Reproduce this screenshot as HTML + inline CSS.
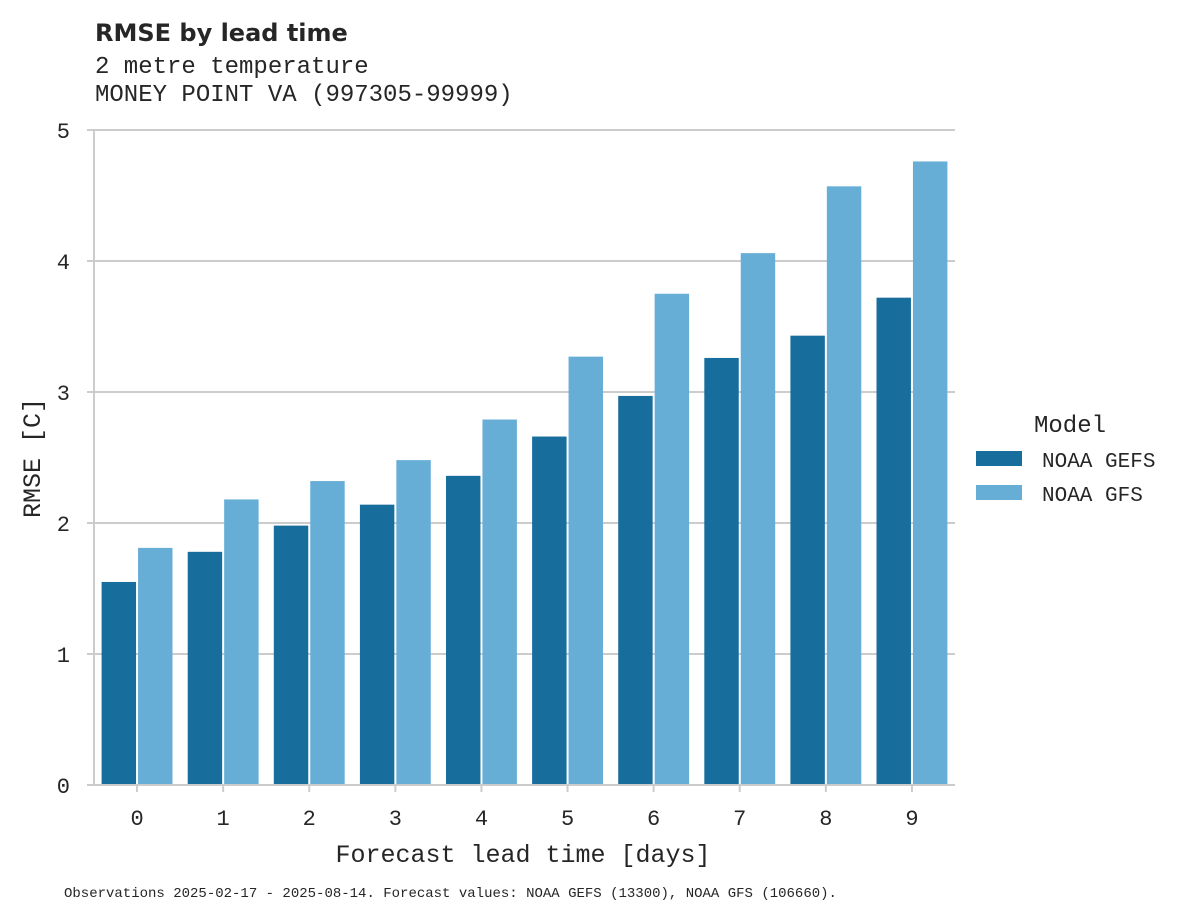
<!DOCTYPE html>
<html><head><meta charset="utf-8"><style>
body{margin:0;background:#fff;}
svg text{font-family:"Liberation Mono","DejaVu Sans Mono",monospace;fill:#262626;}
</style></head><body>
<svg id="chart" width="1195" height="919" xmlns="http://www.w3.org/2000/svg">
<text x="95" y="41" style="font-family:'DejaVu Sans','Liberation Sans',sans-serif;font-weight:bold;font-size:24px">RMSE by lead time</text>
<text x="95" y="73" font-size="24">2 metre temperature</text>
<text x="95" y="101" font-size="24">MONEY POINT  VA (997305-99999)</text>
<g id="grid"></g><g id="bars"></g><g id="axes"></g>
<text x="523" y="862" font-size="25" text-anchor="middle">Forecast lead time [days]</text>
<text transform="translate(40,458) rotate(-90)" font-size="25" text-anchor="middle">RMSE [C]</text>
<g>
<text x="1034" y="432" font-size="24">Model</text>
<rect x="976" y="451" width="46" height="15" fill="#176d9c"/>
<text x="1042" y="467" font-size="21">NOAA GEFS</text>
<rect x="976" y="485" width="46" height="15" fill="#67aed7"/>
<text x="1042" y="501" font-size="21">NOAA GFS</text>
</g>
<text x="64" y="897" font-size="14">Observations 2025-02-17 - 2025-08-14. Forecast values: NOAA GEFS (13300), NOAA GFS (106660).</text>
</svg>
<script>
const categories=["0","1","2","3","4","5","6","7","8","9"];
const gefs=[1.55,1.78,1.98,2.14,2.36,2.66,2.97,3.26,3.43,3.72];
const gfs=[1.81,2.18,2.32,2.48,2.79,3.27,3.75,4.06,4.57,4.76];
const yTicks=[0,1,2,3,4,5];
const NS="http://www.w3.org/2000/svg";
const x0=94,x1=955,yb=785,yt=130,ymax=5;
const bw=(x1-x0)/categories.length;
const y=v=>yb-(v/ymax)*(yb-yt);
const xc=i=>x0+bw*(i+0.5);
function mk(t,a,p){const e=document.createElementNS(NS,t);for(const k in a)e.setAttribute(k,a[k]);document.getElementById(p).appendChild(e);return e;}
yTicks.forEach(t=>{
  if(t>0){const l=mk('line',{x1:x0,x2:x1,y1:y(t),y2:y(t),stroke:'#cccccc','stroke-width':2},'grid');
  
  }
  const tk=mk('line',{x1:x0-7,x2:x0,y1:y(t),y2:y(t),stroke:'#cccccc','stroke-width':2},'axes');
  
  
  const tx=mk('text',{x:x0-24,y:y(t)+8,'font-size':22,'text-anchor':'end'},'axes');
  tx.textContent=t;
  
  
});
categories.forEach((c,i)=>{
  const w=bw*0.4;
  const a=mk('rect',{x:xc(i)-w-1,y:y(gefs[i]),width:w,height:yb-y(gefs[i]),fill:'#176d9c'},'bars');
  
  
  const b=mk('rect',{x:xc(i)+1,y:y(gfs[i]),width:w,height:yb-y(gfs[i]),fill:'#67aed7'},'bars');
  
  
  const tk=mk('line',{x1:xc(i),x2:xc(i),y1:yb,y2:yb+7,stroke:'#cccccc','stroke-width':2},'axes');
  
  
  const tx=mk('text',{x:xc(i),y:yb+40,'font-size':22,'text-anchor':'middle'},'axes');
  tx.textContent=c;
  
  
});
const ax=mk('line',{x1:x0,x2:x0,y1:yt,y2:yb,stroke:'#cccccc','stroke-width':2},'axes');


const bx=mk('line',{x1:x0,x2:x1,y1:yb,y2:yb,stroke:'#cccccc','stroke-width':2},'axes');


</script>
</body></html>
